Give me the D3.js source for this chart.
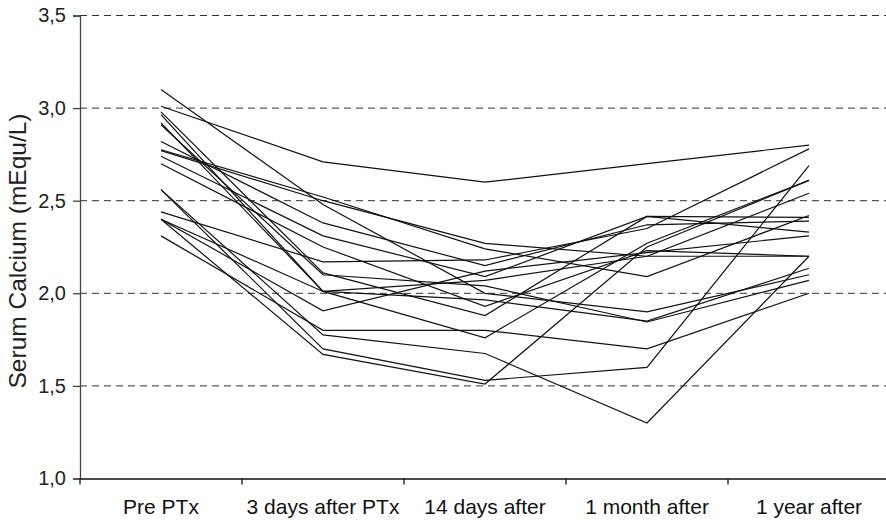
<!DOCTYPE html>
<html>
<head>
<meta charset="utf-8">
<script src="https://cdnjs.cloudflare.com/ajax/libs/d3/7.8.5/d3.min.js"></script>
<style>
  body { margin: 0; background: #fff; }
  svg { display: block; font-family: "Liberation Sans", Arial, Helvetica, sans-serif; }
</style>
</head>
<body>
<div id="chart"></div>
<script>
// Time points (x categories)
const timepoints = ["Pre PTx", "3 days after PTx", "14 days after", "1 month after", "1 year after"];
const yTicks = [1.0, 1.5, 2.0, 2.5, 3.0, 3.5];
const gridValues = [1.5, 2.0, 2.5, 3.0, 3.5];

// Serum calcium per patient, one value per time point
const pt01 = [3.01, 2.71, 2.60, 2.70, 2.80];
const pt02 = [2.775, 2.52, 2.24, 2.09, 2.42];
const pt03 = [2.77, 2.50, 2.27, 2.20, 2.20];
const pt04 = [3.10, 2.48, 2.00, 1.90, 2.10];
const pt05 = [2.82, 2.38, 2.15, 2.37, 2.39];
const pt06 = [2.74, 2.31, 2.09, 2.415, 2.33];
const pt07 = [2.70, 2.25, 1.93, 2.23, 2.20];
const pt08 = [2.98, 2.11, 1.88, 2.415, 2.41];
const pt09 = [2.965, 2.01, 1.76, 2.27, 2.61];
const pt10 = [2.92, 2.01, 2.07, 2.20, 2.54];
const pt11 = [2.91, 2.10, 2.04, 1.845, 2.07];
const pt12 = [2.44, 2.17, 2.18, 2.35, 2.78];
const pt13 = [2.40, 2.01, 1.965, 1.85, 2.135];
const pt14 = [2.40, 1.905, 2.12, 2.22, 2.31];
const pt15 = [2.31, 1.80, 1.80, 1.70, 2.00];
const pt16 = [2.56, 1.775, 1.675, 1.30, 2.20];
const pt17 = [2.56, 1.70, 1.53, 1.60, 2.69];
const pt18 = [2.40, 1.67, 1.51, 2.25, 2.61];

const patients = [pt01, pt02, pt03, pt04, pt05, pt06, pt07, pt08, pt09,
                  pt10, pt11, pt12, pt13, pt14, pt15, pt16, pt17, pt18];

const width = 886, height = 520;
const plot = { left: 80, right: 890, top: 15.5, bottom: 478.5 };

const svg = d3.select("#chart").append("svg")
  .attr("width", width)
  .attr("height", height);

const x = d3.scaleBand()
  .domain(timepoints)
  .range([plot.left, plot.right])
  .padding(0);

const y = d3.scaleLinear()
  .domain([1.0, 3.5])
  .range([plot.bottom, plot.top]);

const xc = d => x(d) + x.bandwidth() / 2;
const fmt = v => d3.format(".1f")(v).replace(".", ",");

// dashed grid lines
svg.append("g")
  .selectAll("line")
  .data(gridValues)
  .enter()
  .append("line")
  .attr("x1", plot.left)
  .attr("x2", width)
  .attr("y1", d => y(d))
  .attr("y2", d => y(d))
  .attr("stroke", "#333")
  .attr("stroke-width", 1)
  .attr("stroke-dasharray", "7,5");

// patient lines
const line = d3.line()
  .x((d, i) => xc(timepoints[i]))
  .y(d => y(d));

svg.append("g")
  .selectAll("path")
  .data(patients)
  .enter()
  .append("path")
  .attr("d", line)
  .attr("fill", "none")
  .attr("stroke", "#111")
  .attr("stroke-width", 1.2);

// y axis
const yAxis = svg.append("g")
  .attr("transform", `translate(${plot.left},0)`)
  .call(d3.axisLeft(y).tickValues(yTicks).tickFormat(fmt).tickSize(7).tickPadding(7));
yAxis.select(".domain").attr("stroke", "#444").attr("stroke-width", 1.3);
yAxis.selectAll(".tick line").attr("stroke", "#444").attr("stroke-width", 1.3);
yAxis.selectAll("text")
  .attr("fill", "#222")
  .style("font-size", "20px");

// x axis: labels in band centres, ticks on band edges
const xAxis = svg.append("g")
  .attr("transform", `translate(0,${plot.bottom})`)
  .call(d3.axisBottom(x).tickSize(0).tickPadding(21));
xAxis.select(".domain").attr("stroke", "#111").attr("stroke-width", 1.3);
xAxis.selectAll("text")
  .attr("fill", "#111")
  .style("font-size", "21px");

xAxis.selectAll("line.edge")
  .data(timepoints)
  .enter()
  .append("line")
  .attr("class", "edge")
  .attr("x1", d => x(d))
  .attr("x2", d => x(d))
  .attr("y1", 0)
  .attr("y2", 6)
  .attr("stroke", "#111")
  .attr("stroke-width", 1.3);

// y axis title
svg.append("text")
  .attr("transform", "translate(26,251) rotate(-90)")
  .attr("text-anchor", "middle")
  .attr("fill", "#222")
  .style("font-size", "24.5px")
  .text("Serum Calcium (mEqu/L)");
</script>
</body>
</html>
